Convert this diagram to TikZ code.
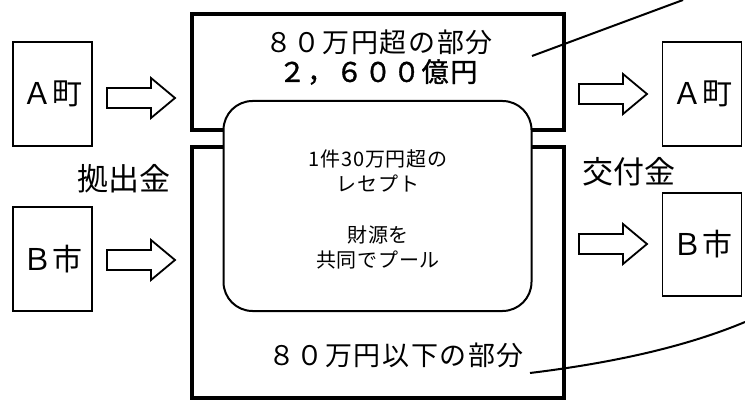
\documentclass[tikz,border=0pt]{standalone}
\usepackage{fontspec}
\setmainfont{Noto Sans CJK JP}
\newfontfamily\widefont[LetterSpace=6]{Noto Sans CJK JP}
\newfontfamily\widebold[LetterSpace=6,FakeBold=1.3]{Noto Sans CJK JP}
\newfontfamily\midfont[LetterSpace=4]{Noto Sans CJK JP}
\begin{document}
\begin{tikzpicture}[x=1pt,y=-1pt,
  thickbox/.style={draw, line width=4pt, inner sep=0pt},
  smallbox/.style={draw, line width=1.8pt, inner sep=0pt, minimum width=79pt, font=\fontsize{30}{30}\selectfont},
  pool/.style={draw, fill=white, line width=2pt, rounded corners=29pt, inner sep=0pt},
  blockarrowline/.style={draw, line width=1.8pt, line join=miter},
  blockarr/.pic={\draw[blockarrowline] (-34,-10) -- (10,-10) -- (10,-20) -- (34,0) -- (10,20) -- (10,10) -- (-34,10) -- cycle;},
  callout/.style={line width=2pt},
  biglbl/.style={inner sep=0pt, font=\widefont\fontsize{27}{27}\selectfont},
  sidelbl/.style={inner sep=0pt, font=\fontsize{31}{31}\selectfont},
  poollbl/.style={inner sep=0pt, align=center, font=\midfont\fontsize{20}{25}\selectfont}]
\useasboundingbox (0,0) rectangle (745,401);
% central boxes
\node[thickbox, minimum width=372pt, minimum height=116pt] (upper) at (378,72) {};
\node[thickbox, minimum width=372pt, minimum height=251pt] (lower) at (378,272.5) {};
\node[pool, minimum width=308pt, minimum height=210pt] (pool) at (377.5,206) {};
% texts in central boxes
\node[biglbl] (over) at (379,42) {８０万円超の部分};
\node[biglbl, font=\widebold\fontsize{27}{27}\selectfont] (amount) at (378,72) {２，６００億円};
\node[biglbl] (under) at (396,355) {８０万円以下の部分};
\node[poollbl] (pooltxtA) at (378,170.5) {1件30万円超の\\レセプト};
\node[poollbl] (pooltxtB) at (378,247.5) {財源を\\共同でプール};
% municipalities
\node[smallbox, minimum height=104pt] (leftA) at (52.5,94) {Ａ町};
\node[smallbox, minimum height=104pt] (leftB) at (52.5,259) {Ｂ市};
\node[smallbox, minimum height=104pt] (rightA) at (702,94) {Ａ町};
\node[smallbox, minimum height=103pt] (rightB) at (702,244.5) {Ｂ市};
% block arrows
\pic (arrLA) at (141,98) {blockarr};
\pic (arrLB) at (141,260) {blockarr};
\pic (arrRA) at (613,94) {blockarr};
\pic (arrRB) at (613,244) {blockarr};
% side labels
\node[sidelbl] (kyoshutsu) at (124,179) {拠出金};
\node[sidelbl] (kofu) at (629,172) {交付金};
% callout lines
\coordinate (c1s) at (532,56);
\coordinate (c1e) at (683,0);
\coordinate (c2s) at (530,373);
\coordinate (c2e) at (745,322);
\draw[callout] (c1s) -- (c1e);
\draw[callout] (c2s) .. controls (620,362) and (690,345) .. (c2e);
\end{tikzpicture}
\end{document}
